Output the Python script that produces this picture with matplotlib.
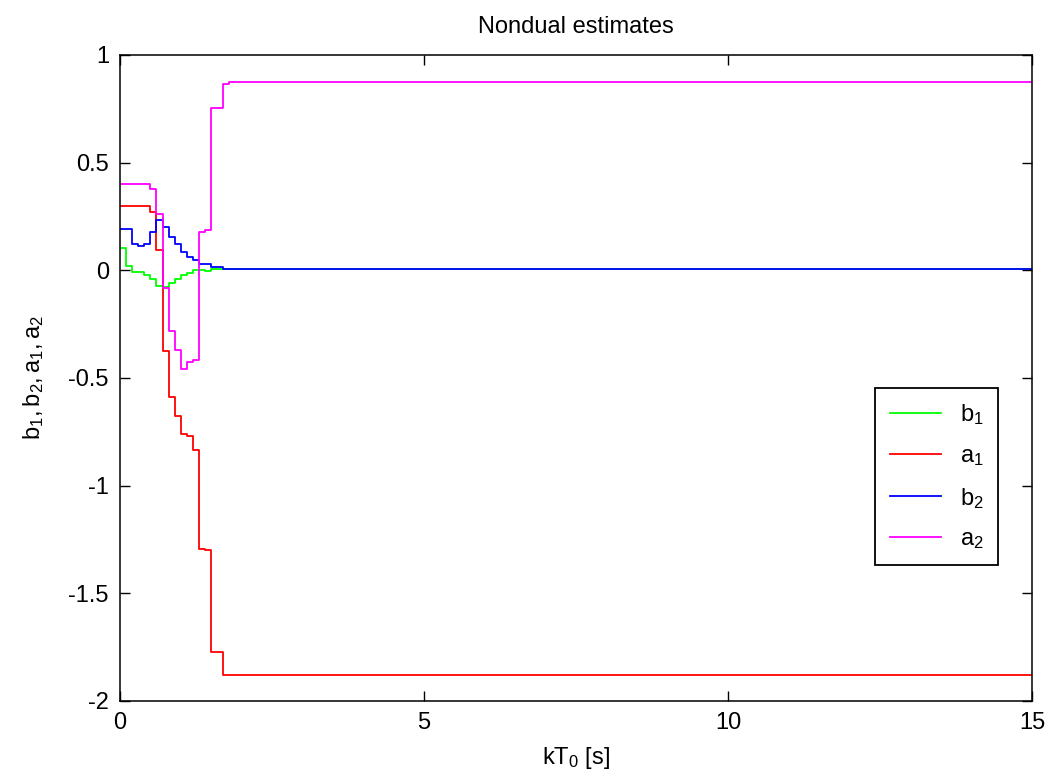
import matplotlib
matplotlib.use("Agg")
import matplotlib.pyplot as plt

plt.rcParams['font.family'] = ['Liberation Sans', 'DejaVu Sans']
plt.rcParams['mathtext.fontset'] = 'custom'
plt.rcParams['mathtext.rm'] = 'Liberation Sans'
plt.rcParams['mathtext.it'] = 'Liberation Sans'

# Sampling period and final time of the simulation [s]
T0 = 0.1
t_end = 15.0

# Parameter estimates at k = 0, 1, 2, ... ; the last entry is held until t_end
b1 = [0.104, 0.019, -0.009, -0.009, -0.023, -0.040, -0.075, -0.077, -0.060,
      -0.040, -0.020, -0.012, 0.000, 0.000, -0.005, 0.008]
a1 = [0.297, 0.297, 0.297, 0.297, 0.297, 0.269, 0.093, -0.373, -0.588,
      -0.678, -0.761, -0.771, -0.836, -1.292, -1.300, -1.772, -1.772, -1.877]
b2 = [0.193, 0.193, 0.124, 0.111, 0.124, 0.178, 0.232, 0.201, 0.155,
      0.124, 0.085, 0.062, 0.050, 0.031, 0.031, 0.015, 0.015, 0.008]
a2 = [0.400, 0.400, 0.400, 0.400, 0.400, 0.379, 0.260, -0.080, -0.282,
      -0.371, -0.456, -0.425, -0.418, 0.178, 0.186, 0.754, 0.754, 0.864, 0.873]

series = [("$\\mathregular{b_1}$", b1, (0, 1, 0)),
          ("$\\mathregular{a_1}$", a1, (1, 0, 0)),
          ("$\\mathregular{b_2}$", b2, (0, 0, 1)),
          ("$\\mathregular{a_2}$", a2, (1, 0, 1))]

FS = 17

fig = plt.figure(figsize=(10.47, 7.8), dpi=100)
ax = fig.add_axes([0.1146, 0.1013, 0.8711, 0.8282])

for label, vals, color in series:
    t = [k * T0 for k in range(len(vals))] + [t_end]
    v = list(vals) + [vals[-1]]
    ax.step(t, v, where='post', color=color, lw=1.3, label=label)

ax.set_xlim(0, 15)
ax.set_ylim(-2, 1)
ax.set_xticks([0, 5, 10, 15])
ax.set_yticks([-2, -1.5, -1, -0.5, 0, 0.5, 1])
ax.set_yticklabels(['-2', '-1.5', '-1', '-0.5', '0', '0.5', '1'])
ax.tick_params(direction='in', length=7, width=1, labelsize=FS,
               top=True, right=True, pad=8)
for sp in ax.spines.values():
    sp.set_linewidth(1.1)

ax.set_title('Nondual estimates', fontsize=FS, pad=16)
ax.set_xlabel('$\\mathregular{kT_0\\ [s]}$', fontsize=FS, labelpad=8)
ax.set_ylabel('$\\mathregular{b_1,b_2,a_1,a_2}$', fontsize=FS,
              labelpad=16)

leg = ax.legend(loc='lower right', bbox_to_anchor=(0.963, 0.21), fontsize=FS,
                fancybox=False, framealpha=1, edgecolor='black',
                handlelength=2.2, labelspacing=0.75, borderpad=0.6,
                handletextpad=0.8, borderaxespad=0)
leg.get_frame().set_linewidth(1.3)

fig.savefig('out.png', dpi=100)
